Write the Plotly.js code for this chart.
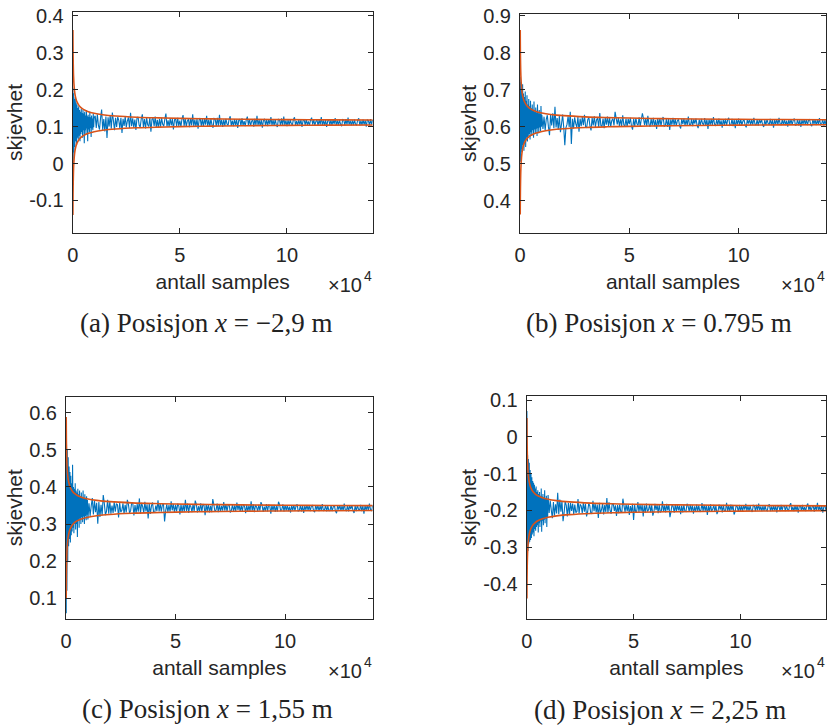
<!DOCTYPE html>
<html>
<head>
<meta charset="utf-8">
<script src="https://cdn.plot.ly/plotly-3.0.1.min.js"></script>
<style>html,body{margin:0;padding:0;background:#fff;}#chart{width:828px;height:727px;}</style>
</head>
<body>
<div id="chart"></div>
<script>
// ---- data ----
const samples = [100,200,400,600,800,1000,1200,1400,1600,1800,2000,2200,2400,2600,2800,3000,3200,3400,3600,3800,4000,4200,4400,4600,4800,5000,5200,5400,5600,5800,6000,6200,6400,6600,6800,7000,7200,7400,7600,7800,8000,8200,8400,8600,8800,9000,9200,9400,9600,9800,10000,
10500,11000,11500,12000,12500,13000,13500,14000,14500,15000,15500,16000,16500,17000,17500,18000,18500,19000,19500,20000,
20500,21000,21500,22000,22500,23000,23500,24000,24500,25000,25500,26000,26500,27000,27500,28000,28500,29000,29500,30000,
30500,31000,31500,32000,32500,33000,33500,34000,34500,35000,35500,36000,36500,37000,37500,38000,38500,39000,39500,40000,
40500,41000,41500,42000,42500,43000,43500,44000,44500,45000,45500,46000,46500,47000,47500,48000,48500,49000,49500,50000,
50500,51000,51500,52000,52500,53000,53500,54000,54500,55000,55500,56000,56500,57000,57500,58000,58500,59000,59500,60000,
60500,61000,61500,62000,62500,63000,63500,64000,64500,65000,65500,66000,66500,67000,67500,68000,68500,69000,69500,70000,
70500,71000,71500,72000,72500,73000,73500,74000,74500,75000,75500,76000,76500,77000,77500,78000,78500,79000,79500,80000,
80500,81000,81500,82000,82500,83000,83500,84000,84500,85000,85500,86000,86500,87000,87500,88000,88500,89000,89500,90000,
90500,91000,91500,92000,92500,93000,93500,94000,94500,95000,95500,96000,96500,97000,97500,98000,98500,99000,99500,100000,
100500,101000,101500,102000,102500,103000,103500,104000,104500,105000,105500,106000,106500,107000,107500,108000,108500,109000,109500,110000,
110500,111000,111500,112000,112500,113000,113500,114000,114500,115000,115500,116000,116500,117000,117500,118000,118500,119000,119500,120000,
120500,121000,121500,122000,122500,123000,123500,124000,124500,125000,125500,126000,126500,127000,127500,128000,128500,129000,129500,130000,
130500,131000,131500,132000,132500,133000,133500,134000,134500,135000,135500,136000,136500,137000,137500,138000,138500,139000,139500,140000];

const skewA = [0.205,0.002,0.19,0.03,0.175,0.045,0.18,0.06,0.165,0.05,0.16,0.07,0.15,0.065,0.155,0.075,0.145,0.06,0.14,0.08,0.148,0.085,0.137,0.07,0.145,0.09,0.135,0.055,0.14,0.09,0.13,0.08,0.145,0.095,0.128,0.06,0.132,0.092,0.126,0.085,0.14,0.096,0.125,0.072,0.13,0.095,0.122,0.09,0.135,0.098,0.124,
0.129,0.096,0.133,0.103,0.092,0.123,0.146,0.091,0.120,0.087,0.127,0.069,0.125,0.100,0.131,0.094,0.138,0.116,0.090,0.124,
0.099,0.126,0.117,0.095,0.124,0.083,0.121,0.102,0.128,0.098,0.115,0.125,0.096,0.137,0.101,0.122,0.097,0.119,0.091,0.123,
0.126,0.104,0.098,0.121,0.133,0.099,0.120,0.095,0.124,0.105,0.100,0.125,0.086,0.120,0.123,0.101,0.127,0.098,0.118,0.096,
0.121,0.100,0.123,0.106,0.101,0.120,0.135,0.100,0.117,0.099,0.122,0.103,0.121,0.092,0.118,0.122,0.101,0.124,0.102,0.116,
0.099,0.121,0.131,0.102,0.122,0.100,0.115,0.120,0.098,0.123,0.103,0.133,0.101,0.119,0.100,0.121,0.094,0.117,0.123,0.102,
0.120,0.099,0.122,0.105,0.129,0.101,0.119,0.100,0.121,0.104,0.097,0.122,0.120,0.101,0.124,0.102,0.132,0.103,0.118,0.099,
0.119,0.102,0.121,0.107,0.103,0.120,0.128,0.102,0.116,0.101,0.120,0.104,0.119,0.096,0.117,0.120,0.102,0.122,0.103,0.115,
0.101,0.119,0.127,0.104,0.120,0.102,0.114,0.119,0.100,0.121,0.104,0.129,0.103,0.118,0.102,0.119,0.097,0.116,0.121,0.103,
0.119,0.101,0.120,0.106,0.126,0.103,0.118,0.102,0.120,0.105,0.099,0.120,0.119,0.102,0.122,0.104,0.127,0.104,0.117,0.101,
0.118,0.103,0.119,0.108,0.104,0.119,0.125,0.104,0.115,0.103,0.118,0.105,0.118,0.099,0.116,0.119,0.104,0.120,0.104,0.114,
0.103,0.118,0.124,0.105,0.119,0.103,0.114,0.118,0.102,0.119,0.105,0.126,0.104,0.117,0.103,0.118,0.099,0.115,0.119,0.104,
0.118,0.103,0.119,0.107,0.123,0.104,0.117,0.103,0.118,0.106,0.101,0.119,0.118,0.103,0.120,0.105,0.124,0.105,0.116,0.103,
0.117,0.104,0.119,0.106,0.104,0.118,0.122,0.103,0.116,0.104,0.119,0.105,0.117,0.100,0.118,0.116,0.103,0.120,0.105,0.118];

const skewB = [0.735,0.505,0.72,0.53,0.70,0.54,0.715,0.55,0.69,0.535,0.68,0.56,0.695,0.545,0.67,0.57,0.685,0.56,0.66,0.575,0.675,0.58,0.655,0.565,0.67,0.585,0.65,0.575,0.66,0.59,0.645,0.57,0.668,0.592,0.64,0.58,0.652,0.594,0.638,0.575,0.66,0.596,0.636,0.582,0.645,0.598,0.634,0.588,0.656,0.6,0.632,
0.594,0.627,0.590,0.620,0.631,0.600,0.577,0.632,0.603,0.636,0.596,0.654,0.598,0.623,0.592,0.629,0.585,0.607,0.633,0.599,
0.550,0.597,0.606,0.628,0.599,0.640,0.553,0.621,0.595,0.625,0.608,0.598,0.627,0.586,0.622,0.601,0.626,0.604,0.632,0.600,
0.597,0.619,0.625,0.602,0.590,0.624,0.603,0.628,0.599,0.618,0.623,0.598,0.637,0.603,0.600,0.622,0.596,0.625,0.605,0.627,
0.602,0.623,0.600,0.617,0.622,0.603,0.640,0.623,0.606,0.624,0.601,0.620,0.602,0.631,0.605,0.601,0.622,0.599,0.621,0.607,
0.624,0.602,0.592,0.621,0.601,0.623,0.608,0.603,0.625,0.600,0.620,0.636,0.622,0.604,0.623,0.602,0.629,0.606,0.600,0.621,
0.603,0.624,0.601,0.618,0.594,0.622,0.604,0.623,0.602,0.619,0.626,0.601,0.603,0.622,0.599,0.621,0.591,0.620,0.605,0.624,
0.604,0.621,0.602,0.616,0.620,0.603,0.595,0.621,0.607,0.622,0.603,0.619,0.604,0.627,0.606,0.603,0.621,0.601,0.620,0.608,
0.622,0.604,0.596,0.619,0.603,0.621,0.609,0.604,0.623,0.602,0.619,0.594,0.620,0.605,0.621,0.604,0.626,0.607,0.602,0.620,
0.604,0.622,0.603,0.617,0.597,0.620,0.605,0.621,0.603,0.618,0.624,0.603,0.604,0.621,0.601,0.619,0.596,0.619,0.606,0.622,
0.605,0.620,0.604,0.615,0.619,0.604,0.598,0.619,0.608,0.620,0.605,0.618,0.605,0.624,0.607,0.604,0.619,0.603,0.619,0.609,
0.620,0.605,0.599,0.618,0.604,0.620,0.609,0.605,0.621,0.604,0.618,0.597,0.619,0.606,0.620,0.605,0.624,0.608,0.604,0.619,
0.605,0.620,0.604,0.616,0.600,0.619,0.606,0.620,0.605,0.617,0.622,0.604,0.605,0.620,0.603,0.618,0.599,0.618,0.607,0.620,
0.606,0.619,0.604,0.617,0.619,0.605,0.601,0.620,0.607,0.619,0.604,0.618,0.606,0.623,0.605,0.607,0.620,0.603,0.618,0.605];

const skewC = [0.06,0.56,0.12,0.50,0.20,0.48,0.24,0.455,0.26,0.44,0.25,0.43,0.27,0.41,0.28,0.46,0.29,0.40,0.275,0.395,0.30,0.41,0.285,0.39,0.30,0.385,0.265,0.395,0.31,0.38,0.29,0.39,0.315,0.375,0.30,0.385,0.318,0.372,0.305,0.39,0.32,0.37,0.30,0.38,0.322,0.368,0.31,0.375,0.325,0.365,0.312,
0.356,0.322,0.348,0.370,0.326,0.363,0.332,0.357,0.301,0.359,0.319,0.352,0.323,0.378,0.355,0.324,0.335,0.365,0.328,0.361,
0.328,0.350,0.330,0.359,0.333,0.355,0.352,0.318,0.357,0.332,0.337,0.356,0.327,0.352,0.331,0.365,0.353,0.330,0.336,0.358,
0.355,0.323,0.351,0.329,0.354,0.333,0.369,0.328,0.357,0.347,0.330,0.360,0.334,0.353,0.315,0.356,0.327,0.349,0.358,0.331,
0.331,0.350,0.335,0.364,0.334,0.356,0.333,0.352,0.354,0.307,0.336,0.353,0.332,0.351,0.333,0.361,0.337,0.354,0.331,0.352,
0.334,0.355,0.349,0.326,0.353,0.332,0.351,0.333,0.365,0.335,0.355,0.330,0.352,0.347,0.332,0.354,0.334,0.363,0.353,0.331,
0.348,0.334,0.356,0.333,0.354,0.350,0.324,0.353,0.335,0.354,0.331,0.349,0.332,0.367,0.352,0.333,0.338,0.355,0.332,0.353,
0.333,0.349,0.336,0.359,0.336,0.354,0.334,0.351,0.352,0.331,0.337,0.352,0.334,0.350,0.335,0.358,0.338,0.353,0.333,0.351,
0.335,0.353,0.348,0.329,0.351,0.334,0.350,0.335,0.361,0.336,0.353,0.332,0.351,0.346,0.334,0.352,0.336,0.359,0.351,0.333,
0.347,0.335,0.354,0.334,0.352,0.349,0.328,0.351,0.336,0.352,0.333,0.348,0.334,0.360,0.352,0.335,0.339,0.353,0.334,0.351,
0.336,0.351,0.335,0.347,0.331,0.350,0.337,0.351,0.336,0.348,0.353,0.335,0.336,0.351,0.334,0.349,0.330,0.349,0.338,0.351,
0.337,0.350,0.335,0.348,0.350,0.336,0.332,0.351,0.338,0.350,0.335,0.349,0.337,0.354,0.336,0.338,0.351,0.334,0.349,0.336,
0.336,0.351,0.335,0.346,0.350,0.335,0.329,0.350,0.339,0.351,0.336,0.349,0.336,0.355,0.338,0.335,0.350,0.334,0.350,0.340,
0.351,0.336,0.330,0.349,0.335,0.351,0.340,0.336,0.352,0.335,0.349,0.328,0.350,0.337,0.351,0.336,0.355,0.339,0.335,0.350];

const skewD = [0.07,-0.30,-0.05,-0.31,-0.06,-0.29,-0.07,-0.285,-0.09,-0.28,-0.10,-0.275,-0.11,-0.265,-0.12,-0.26,-0.125,-0.27,-0.13,-0.25,-0.14,-0.255,-0.135,-0.245,-0.15,-0.24,-0.145,-0.26,-0.155,-0.235,-0.15,-0.245,-0.16,-0.23,-0.14,-0.258,-0.162,-0.228,-0.155,-0.24,-0.165,-0.225,-0.145,-0.235,-0.168,-0.222,-0.16,-0.245,-0.17,-0.22,-0.158,
-0.207,-0.173,-0.199,-0.221,-0.177,-0.214,-0.183,-0.208,-0.152,-0.210,-0.170,-0.203,-0.174,-0.229,-0.206,-0.175,-0.186,-0.216,-0.179,-0.212,
-0.179,-0.201,-0.181,-0.210,-0.184,-0.206,-0.203,-0.169,-0.208,-0.183,-0.188,-0.207,-0.178,-0.203,-0.182,-0.216,-0.204,-0.181,-0.187,-0.209,
-0.206,-0.174,-0.202,-0.180,-0.205,-0.184,-0.220,-0.179,-0.208,-0.198,-0.181,-0.211,-0.185,-0.204,-0.166,-0.207,-0.178,-0.200,-0.209,-0.182,
-0.182,-0.201,-0.186,-0.215,-0.185,-0.207,-0.184,-0.203,-0.205,-0.168,-0.187,-0.204,-0.183,-0.202,-0.184,-0.212,-0.188,-0.205,-0.182,-0.226,
-0.185,-0.206,-0.200,-0.177,-0.204,-0.183,-0.202,-0.184,-0.216,-0.186,-0.206,-0.181,-0.203,-0.198,-0.183,-0.205,-0.185,-0.214,-0.204,-0.182,
-0.199,-0.185,-0.207,-0.184,-0.205,-0.201,-0.175,-0.204,-0.186,-0.205,-0.182,-0.200,-0.183,-0.218,-0.203,-0.184,-0.189,-0.206,-0.183,-0.204,
-0.184,-0.200,-0.187,-0.210,-0.187,-0.205,-0.185,-0.202,-0.203,-0.182,-0.188,-0.203,-0.185,-0.201,-0.186,-0.209,-0.189,-0.204,-0.184,-0.202,
-0.186,-0.204,-0.199,-0.180,-0.202,-0.185,-0.201,-0.186,-0.212,-0.187,-0.204,-0.183,-0.202,-0.197,-0.185,-0.203,-0.187,-0.210,-0.202,-0.184,
-0.198,-0.186,-0.205,-0.185,-0.203,-0.200,-0.179,-0.202,-0.187,-0.203,-0.184,-0.199,-0.185,-0.211,-0.203,-0.186,-0.190,-0.204,-0.185,-0.202,
-0.187,-0.202,-0.186,-0.198,-0.182,-0.201,-0.188,-0.202,-0.187,-0.199,-0.204,-0.186,-0.187,-0.202,-0.185,-0.200,-0.181,-0.200,-0.189,-0.202,
-0.188,-0.201,-0.186,-0.199,-0.201,-0.187,-0.183,-0.202,-0.189,-0.201,-0.186,-0.200,-0.188,-0.205,-0.187,-0.189,-0.202,-0.185,-0.200,-0.187,
-0.187,-0.202,-0.186,-0.197,-0.201,-0.186,-0.180,-0.201,-0.190,-0.202,-0.187,-0.200,-0.187,-0.206,-0.189,-0.186,-0.201,-0.185,-0.201,-0.191,
-0.202,-0.187,-0.181,-0.200,-0.186,-0.202,-0.191,-0.187,-0.203,-0.186,-0.200,-0.179,-0.201,-0.188,-0.202,-0.187,-0.206,-0.190,-0.186,-0.201];

const envN = [100,200,400,700,1000,1500,2000,3000,4000,5000,7000,10000,14000,20000,30000,40000,50000,65000,80000,100000,120000,140000];
const upperA = [0.361,0.288,0.236,0.2055,0.190,0.1755,0.167,0.1567,0.1505,0.1464,0.1409,0.136,0.1321,0.1287,0.1254,0.1235,0.1222,0.1208,0.1198,0.1189,0.1182,0.1177];
const lowerA = [-0.139,-0.066,-0.014,0.0165,0.032,0.0465,0.055,0.0653,0.0715,0.0756,0.0811,0.086,0.0899,0.0933,0.0966,0.0985,0.0998,0.1012,0.1022,0.1031,0.1038,0.1043];
const upperB = [0.862,0.789,0.737,0.7065,0.691,0.6765,0.668,0.6577,0.6515,0.6474,0.6419,0.637,0.6331,0.6297,0.6264,0.6245,0.6232,0.6218,0.6208,0.6199,0.6192,0.6187];
const lowerB = [0.362,0.435,0.487,0.5175,0.533,0.5475,0.556,0.5663,0.5725,0.5766,0.5821,0.587,0.5909,0.5943,0.5976,0.5995,0.6008,0.6022,0.6032,0.6041,0.6048,0.6053];
const upperC = [0.588,0.5162,0.4655,0.4356,0.4205,0.4063,0.3978,0.3877,0.3817,0.3776,0.3723,0.3675,0.3637,0.3603,0.3571,0.3552,0.354,0.3526,0.3517,0.3507,0.3501,0.3495];
const lowerC = [0.098,0.1698,0.2205,0.2504,0.2655,0.2797,0.2882,0.2983,0.3043,0.3084,0.3137,0.3185,0.3223,0.3257,0.3289,0.3308,0.332,0.3334,0.3343,0.3353,0.3359,0.3365];
const upperD = [0.051,-0.0208,-0.0715,-0.1014,-0.1165,-0.1307,-0.1392,-0.1493,-0.1553,-0.1594,-0.1647,-0.1695,-0.1733,-0.1767,-0.1799,-0.1818,-0.183,-0.1844,-0.1853,-0.1863,-0.1869,-0.1875];
const lowerD = [-0.439,-0.3672,-0.3165,-0.2866,-0.2715,-0.2573,-0.2488,-0.2387,-0.2327,-0.2286,-0.2233,-0.2185,-0.2147,-0.2113,-0.2081,-0.2062,-0.205,-0.2036,-0.2027,-0.2017,-0.2011,-0.2005];

const xTickVals = [0, 50000, 100000];
const xTickText = ['0', '5', '10'];
const yTickA = [-0.1, 0, 0.1, 0.2, 0.3, 0.4];
const yTickTextA = ['-0.1', '0', '0.1', '0.2', '0.3', '0.4'];
const yTickB = [0.4, 0.5, 0.6, 0.7, 0.8, 0.9];
const yTickTextB = ['0.4', '0.5', '0.6', '0.7', '0.8', '0.9'];
const yTickC = [0.1, 0.2, 0.3, 0.4, 0.5, 0.6];
const yTickTextC = ['0.1', '0.2', '0.3', '0.4', '0.5', '0.6'];
const yTickD = [-0.4, -0.3, -0.2, -0.1, 0, 0.1];
const yTickTextD = ['-0.4', '-0.3', '-0.2', '-0.1', '0', '0.1'];
const captions = [
  '(a) Posisjon <i>x</i> = \u22122,9 m',
  '(b) Posisjon <i>x</i> = 0.795 m',
  '(c) Posisjon <i>x</i> = 1,55 m',
  '(d) Posisjon <i>x</i> = 2,25 m'
];
const xTitle = 'antall samples';
const yTitle = 'skjevhet';
const exponentBase = '\u00d710';
const exponentPower = '4';

// ---- styling / layout ----
const W = 828, H = 727;
const BLUE = '#0072BD', ORANGE = '#D95319', AX = '#262626';
const SANS = 'Liberation Sans, Arial, Helvetica, sans-serif';
const SERIF = 'Liberation Serif, Times New Roman, serif';

// plot boxes in pixels: [left, right, top, bottom]
const boxes = [
  [72.7, 372.7, 12, 233],
  [520, 826, 14, 233],
  [66, 372.7, 396.7, 618.7],
  [526.7, 826, 396, 618.7]
];
const yRanges = [[-0.188, 0.41], [0.312, 0.905], [0.045, 0.643], [-0.494, 0.111]];
const yTicks = [[yTickA, yTickTextA], [yTickB, yTickTextB], [yTickC, yTickTextC], [yTickD, yTickTextD]];
const blues = [skewA, skewB, skewC, skewD];
const uppers = [upperA, upperB, upperC, upperD];
const lowers = [lowerA, lowerB, lowerC, lowerD];
const captionPos = [[206, 323], [658.5, 323], [207.5, 709], [660, 710]];

const px = v => v / W;
const py = v => 1 - v / H;

const traces = [];
const layout = {
  width: W, height: H,
  margin: {l: 0, r: 0, t: 0, b: 0},
  paper_bgcolor: '#fff', plot_bgcolor: '#fff',
  showlegend: false,
  annotations: []
};

for (let i = 0; i < 4; i++) {
  const sfx = i === 0 ? '' : String(i + 1);
  const xa = 'x' + sfx, ya = 'y' + sfx;
  traces.push({x: samples, y: blues[i], xaxis: xa, yaxis: ya, type: 'scatter', mode: 'lines',
    line: {color: BLUE, width: 1.1, simplify: false}, hoverinfo: 'skip'});
  traces.push({x: envN, y: uppers[i], xaxis: xa, yaxis: ya, type: 'scatter', mode: 'lines',
    line: {color: ORANGE, width: 1.6, shape: 'spline'}, hoverinfo: 'skip'});
  traces.push({x: envN, y: lowers[i], xaxis: xa, yaxis: ya, type: 'scatter', mode: 'lines',
    line: {color: ORANGE, width: 1.6, shape: 'spline'}, hoverinfo: 'skip'});
  const b = boxes[i];
  const common = {showline: true, linecolor: AX, linewidth: 1, mirror: 'ticks', ticks: 'inside',
    ticklen: 5, tickwidth: 1, tickcolor: AX, showgrid: false, zeroline: false,
    tickfont: {family: SANS, size: 20, color: AX}, fixedrange: true};
  layout['xaxis' + sfx] = Object.assign({}, common, {
    domain: [px(b[0]), px(b[1])], anchor: ya, range: [0, 140000],
    tickmode: 'array', tickvals: xTickVals, ticktext: xTickText, ticklabelstandoff: 4,
    title: {text: xTitle, font: {family: SANS, size: 21, color: AX}, standoff: 9}
  });
  layout['yaxis' + sfx] = Object.assign({}, common, {
    domain: [py(b[3]), py(b[2])], anchor: xa, range: yRanges[i],
    tickmode: 'array', tickvals: yTicks[i][0], ticktext: yTicks[i][1], ticklabelstandoff: 4,
    title: {text: yTitle, font: {family: SANS, size: 21, color: AX}, standoff: 0}
  });
  layout.annotations.push({xref: 'paper', yref: 'paper', x: px(b[1] - 9), y: py(b[3] + 52),
    text: exponentBase, showarrow: false, xanchor: 'right', yanchor: 'middle',
    font: {family: SANS, size: 20, color: AX}});
  layout.annotations.push({xref: 'paper', yref: 'paper', x: px(b[1] + 1), y: py(b[3] + 43),
    text: exponentPower, showarrow: false, xanchor: 'right', yanchor: 'middle',
    font: {family: SANS, size: 14, color: AX}});
  layout.annotations.push({xref: 'paper', yref: 'paper', x: px(captionPos[i][0]), y: py(captionPos[i][1]),
    text: captions[i], showarrow: false, xanchor: 'center', yanchor: 'middle',
    font: {family: SERIF, size: 27, color: '#222'}});
}

Plotly.newPlot('chart', traces, layout, {staticPlot: true, displayModeBar: false});
</script>
</body>
</html>
